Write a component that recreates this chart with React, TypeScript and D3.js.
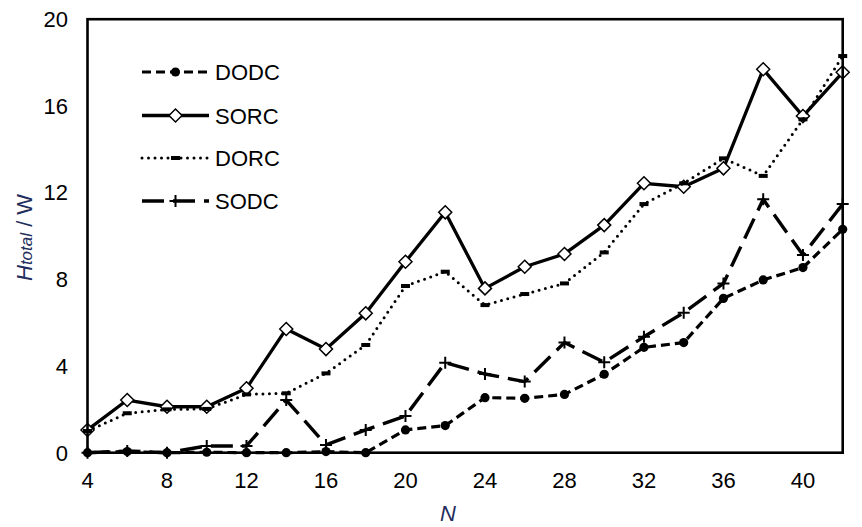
import React from "react";
import * as d3 from "d3";

const nValues = [4, 6, 8, 10, 12, 14, 16, 18, 20, 22, 24, 26, 28, 30, 32, 34, 36, 38, 40, 42];
const dodc = [0, 0.05, 0, 0.02, 0, 0, 0.05, 0, 1.05, 1.25, 2.54, 2.51, 2.69, 3.62, 4.86, 5.08, 7.12, 7.97, 8.54, 10.31];
const sorc = [1.05, 2.43, 2.12, 2.12, 2.97, 5.71, 4.78, 6.43, 8.81, 11.09, 7.58, 8.58, 9.17, 10.5, 12.43, 12.27, 13.12, 17.69, 15.53, 17.55];
const dorc = [1.0, 1.82, 2.0, 2.02, 2.69, 2.74, 3.66, 4.97, 7.69, 8.35, 6.81, 7.32, 7.81, 9.24, 11.47, 12.43, 13.58, 12.77, 15.38, 18.3];
const sodc = [0, 0.08, 0, 0.31, 0.31, 2.43, 0.36, 1.05, 1.69, 4.15, 3.63, 3.28, 5.08, 4.17, 5.35, 6.46, 7.81, 11.69, 9.12, 11.47];

const xTicks = [4, 8, 12, 16, 20, 24, 28, 32, 36, 40];
const yTicks = [0, 4, 8, 12, 16, 20];

const seriesNames = ["DODC", "SORC", "DORC", "SODC"];

const W = 862;
const H = 527;
const left = 87.5;
const right = 842.7;
const top = 19.2;
const bottom = 452.7;
const font = "'Liberation Sans', Arial, sans-serif";

const x = d3.scaleLinear().domain([4, 42]).range([left, right]);
const y = d3.scaleLinear().domain([0, 20]).range([bottom, top]);

const lineGen = d3
  .line<number>()
  .x((_, i) => x(nValues[i]))
  .y((d) => y(d));

type Style = { dash?: string; width: number; cap?: "round" | "butt" };
const styles: Record<string, Style> = {
  DODC: { dash: "9 5", width: 3.2 },
  SORC: { width: 3.3 },
  DORC: { dash: "0 6.5", width: 3, cap: "round" },
  SODC: { dash: "22 9", width: 3.4 },
};

function Marker({ name, cx, cy }: { name: string; cx: number; cy: number }) {
  if (name === "DODC") return <circle cx={cx} cy={cy} r={4.6} fill="#000" />;
  if (name === "SORC") {
    const s = 6.5;
    return (
      <path
        d={`M${cx},${cy - s}L${cx + s},${cy}L${cx},${cy + s}L${cx - s},${cy}Z`}
        fill="#fff"
        stroke="#000"
        strokeWidth={1.5}
      />
    );
  }
  if (name === "DORC") return <rect x={cx - 4.5} y={cy - 2} width={9} height={4} fill="#000" />;
  const a = 6;
  return (
    <path
      d={`M${cx - a},${cy}H${cx + a}M${cx},${cy - a}V${cy + a}`}
      stroke="#000"
      strokeWidth={2}
      fill="none"
    />
  );
}

const dataByName: Record<string, number[]> = { DODC: dodc, SORC: sorc, DORC: dorc, SODC: sodc };

export default function App() {
  const legendRows = [72, 115.5, 158, 201];
  return (
    <>
      <style>{`body{margin:0}`}</style>
      <svg width={W} height={H} style={{ display: "block", background: "#fff" }} fontFamily={font}>
        {/* series */}
        {seriesNames.map((name) => {
          const st = styles[name];
          const vals = dataByName[name];
          return (
            <g key={name}>
              <path
                d={lineGen(vals) || ""}
                fill="none"
                stroke="#000"
                strokeWidth={st.width}
                strokeDasharray={st.dash}
                strokeLinecap={st.cap || "butt"}
                strokeLinejoin="round"
              />
              {vals.map((v, i) => (
                <Marker key={i} name={name} cx={x(nValues[i])} cy={y(v)} />
              ))}
            </g>
          );
        })}

        {/* frame */}
        <rect x={left} y={top} width={right - left} height={bottom - top} fill="none" stroke="#000" strokeWidth={2.6} />

        {/* ticks */}
        {yTicks.map((t) => (
          <text key={t} x={68} y={y(t) + 7.8} textAnchor="end" fontSize={22} fill="#000">
            {t}
          </text>
        ))}
        {xTicks.map((t) => (
          <text key={t} x={x(t)} y={488} textAnchor="middle" fontSize={22} fill="#000">
            {t}
          </text>
        ))}

        {/* axis titles */}
        <text x={448} y={521} textAnchor="middle" fontSize={22} fontStyle="italic" fill="#1f2d5c">
          N
        </text>
        <text transform="translate(32,281) rotate(-90)" fontSize={22} fill="#1f2d5c">
          <tspan fontStyle="italic">H</tspan>
          <tspan fontStyle="italic" fontSize={17}>total</tspan>
          <tspan> / W</tspan>
        </text>

        {/* legend */}
        {seriesNames.map((name, i) => {
          const st = styles[name];
          const cy = legendRows[i];
          return (
            <g key={name}>
              <line
                x1={142}
                x2={209}
                y1={cy}
                y2={cy}
                stroke="#000"
                strokeWidth={st.width}
                strokeDasharray={st.dash}
                strokeLinecap={st.cap || "butt"}
              />
              <Marker name={name} cx={175.5} cy={cy} />
              <text x={215} y={cy + 8} fontSize={22} fill="#000">
                {name}
              </text>
            </g>
          );
        })}
      </svg>
    </>
  );
}
